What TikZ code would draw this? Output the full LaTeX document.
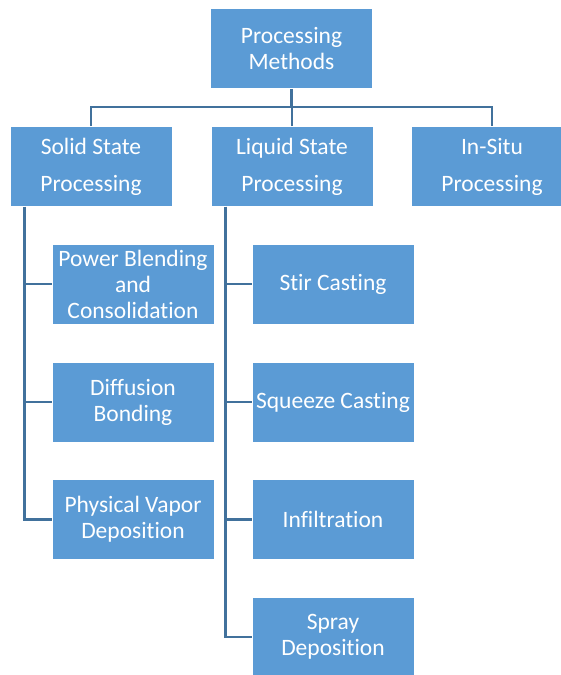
\documentclass[tikz,border=0pt]{standalone}
\usepackage{fontspec}
\setmainfont{Carlito}[Ligatures={NoCommon}]
\definecolor{boxblue}{HTML}{5B9BD5}
\definecolor{linkblue}{HTML}{41719C}
\tikzset{
  method/.style={draw=white, line width=0.8pt, fill=boxblue, text=white,
    minimum width=162pt, minimum height=80pt, inner sep=0pt, align=center,
    font=\fontsize{23.5}{26}\selectfont},
  stage/.style={method, font=\fontsize{23.5}{37}\selectfont},
  link/.style={draw=linkblue, line width=2.6pt}
}
\begin{document}
\begin{tikzpicture}[x=1pt, y=-1pt]
  \clip (0,0) rectangle (561,675);
  \fill[white] (0,0) rectangle (561,675);
  % top level
  \node[method] (methods) at (291.5,48.5) {Processing\\Methods};
  \node[stage] (solid) at (91,166.5) {Solid State\\Processing};
  \node[stage] (liquid) at (292,166.5) {Liquid State\\Processing};
  \node[stage] (insitu) at (492,166.5) {In-Situ\\Processing};
  % solid state methods
  \node[method] (blend) at (133,284) {Power Blending\\and\\Consolidation};
  \node[method] (diffusion) at (133,402) {Diffusion\\Bonding};
  \node[method] (vapor) at (133,519.5) {Physical Vapor\\Deposition};
  % liquid state methods
  \node[method] (stir) at (333,284) {Stir Casting};
  \node[method] (squeeze) at (333,402) {Squeeze Casting};
  \node[method] (infil) at (333,519.5) {Infiltration};
  \node[method] (spray) at (333,637) {Spray\\Deposition};
  % connectors
  \coordinate (busL) at (91,107);
  \coordinate (busR) at (492,107);
  \draw[link] (methods.south) -- (methods.south |- busL);
  \draw[link] (solid.north) -- (busL) -- (busR) -- (insitu.north);
  \draw[link] (liquid.north) -- (liquid.north |- busL);
  \foreach \child in {blend,diffusion,vapor}
    \draw[link] ([xshift=15pt]solid.south west) |- (\child.west);
  \foreach \child in {stir,squeeze,infil,spray}
    \draw[link] ([xshift=15pt]liquid.south west) |- (\child.west);
\end{tikzpicture}
\end{document}
